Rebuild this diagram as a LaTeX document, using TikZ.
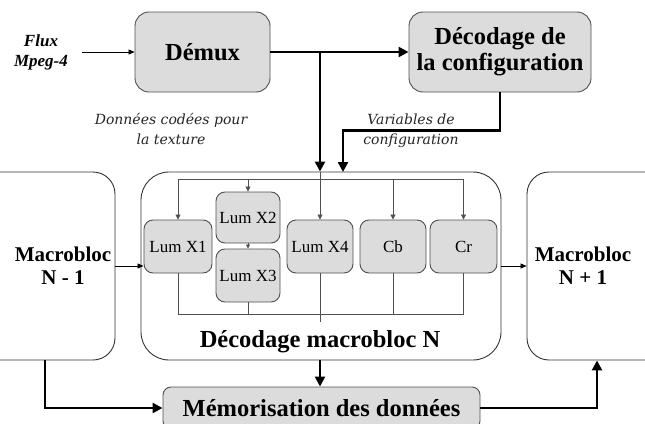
\documentclass[tikz,border=0pt]{standalone}
\usepackage{fontspec}
\setmainfont{Liberation Serif}
\newfontfamily\labfont{DejaVu Serif}
\usetikzlibrary{arrows.meta,positioning,calc}
\definecolor{boxfill}{RGB}{220,220,220}
\definecolor{edge}{RGB}{80,80,80}
\tikzset{
  gbox/.style={draw=edge, line width=0.9pt, fill=boxfill, rounded corners=#1, inner sep=0pt},
  gbox/.default=10pt,
  wbox/.style={draw=black!80, line width=0.9pt, fill=white, rounded corners=#1, inner sep=0pt},
  bigtxt/.style={font=\fontsize{24.5}{27}\selectfont\bfseries, align=center},
  midtxt/.style={font=\fontsize{21}{23}\selectfont\bfseries, align=center},
  smtxt/.style={font=\fontsize{17}{19}\selectfont},
  itlab/.style={font=\labfont\itshape\fontsize{14}{20}\selectfont, align=center, text=black!85},
  thick arr/.style={line width=2.4pt, -{Triangle[length=10pt,width=10pt]}},
  thick line/.style={line width=2.4pt},
  thin arr/.style={line width=0.8pt, draw=edge, -{Triangle[length=5pt,width=5pt]}},
  thin line/.style={line width=0.8pt, draw=edge},
}
\begin{document}
\begin{tikzpicture}[x=1pt,y=-1pt]
\clip (0,0) rectangle (645,423);
\fill[white] (0,0) rectangle (645,423);
% top boxes
\node[gbox=14pt, minimum width=135pt, minimum height=80pt, bigtxt] (demux) at (202.5,52) {Démux};
\node[gbox=14pt, minimum width=182pt, minimum height=80pt, bigtxt] (conf) at (500,52) {Décodage de\\[-1pt]la configuration};
\node[font=\fontsize{17}{20}\selectfont\bfseries\itshape, align=center] (flux) at (41,52) {Flux\\Mpeg-4};
\coordinate (fluxend) at (82,52);
\node[itlab] (donnees) at (171,129) {Données codées pour\\la texture};
\node[itlab] (vars) at (411,131) {Variables de\\configuration};
% side boxes
\node[wbox=22pt, minimum width=140pt, minimum height=188pt] (mprev) at (45,266) {};
\node[midtxt] (mprevtxt) at (63,266) {Macrobloc\\N - 1};
\node[wbox=22pt, minimum width=140pt, minimum height=188pt] (mnext) at (597,266) {};
\node[midtxt] (mnexttxt) at (583,266) {Macrobloc\\N + 1};
% big box
\node[wbox=28pt, minimum width=360pt, minimum height=188pt] (big) at (321,266) {};
\node[bigtxt] (bigtxt) at (320,342) {Décodage macrobloc N};
% inner boxes
\node[gbox=9pt, minimum width=68pt, minimum height=53pt, smtxt] (x1) at (178,246.5) {Lum X1};
\node[gbox=9pt, minimum width=64pt, minimum height=51pt, smtxt] (x2) at (248,217.5) {Lum X2};
\node[gbox=9pt, minimum width=64pt, minimum height=53pt, smtxt] (x3) at (248,275.5) {Lum X3};
\node[gbox=9pt, minimum width=66pt, minimum height=53pt, smtxt] (x4) at (320,246.5) {Lum X4};
\node[gbox=9pt, minimum width=66pt, minimum height=53pt, smtxt] (cb) at (393,246.5) {Cb};
\node[gbox=9pt, minimum width=67pt, minimum height=53pt, smtxt] (cr) at (463.5,246.5) {Cr};
% memorisation
\node[gbox=8pt, minimum width=317pt, minimum height=42pt, bigtxt] (mem) at (321.5,408) {Mémorisation des données};
% coordinates
\coordinate (split) at (320,52);
\coordinate (dtop) at (320,179);
\coordinate (bot) at (320,314);
% top connectors
\draw[line width=0.8pt, -{Triangle[length=6pt,width=5pt]}] (fluxend) -- (demux.west);
\draw[thick line] (demux.east) -- (split);
\draw[thick arr] (split) -- (conf.west);
\draw[thick arr] (split) -- (split |- big.north);
\draw[thick arr] (conf.south) -- ++(0,38) -| (343,172);
% distribution
\draw[thin line] (big.north -| split) -- (dtop);
\draw[thin line] (dtop -| x1) -- (dtop -| cr);
\draw[thin arr] (dtop -| x1) -- (x1.north);
\draw[thin arr] (dtop -| x2) -- (x2.north);
\draw[thin arr] (dtop) -- (x4.north);
\draw[thin arr] (dtop -| cb) -- (cb.north);
\draw[thin arr] (dtop -| cr) -- (cr.north);
\draw[line width=0.8pt, draw=edge, -{Triangle[length=4pt,width=4pt]}] (x2.south) -- (x3.north);
% collector
\draw[thin line] (x1.south) -- (bot -| x1);
\draw[thin line] (x3.south) -- (bot -| x3);
\draw[thin line] (x4.south) -- (320,322);
\draw[thin line] (cb.south) -- (bot -| cb);
\draw[thin line] (cr.south) -- (bot -| cr);
\draw[thin line] (bot -| x1) -- (bot -| cr);
% horizontal flow
\draw[line width=0.8pt, -{Triangle[length=6pt,width=5pt]}] (mprev.east) -- (mprev.east -| x1.west);
\draw[line width=0.8pt, -{Triangle[length=6pt,width=5pt]}] (big.east) -- (mnext.west);
% bottom
\draw[thick arr] (big.south -| split) -- (mem.north -| split);
\draw[thick arr] (mprev.south) |- (mem.west);
\draw[thick arr] (mem.east) -| (mnext.south);
\end{tikzpicture}
\end{document}
